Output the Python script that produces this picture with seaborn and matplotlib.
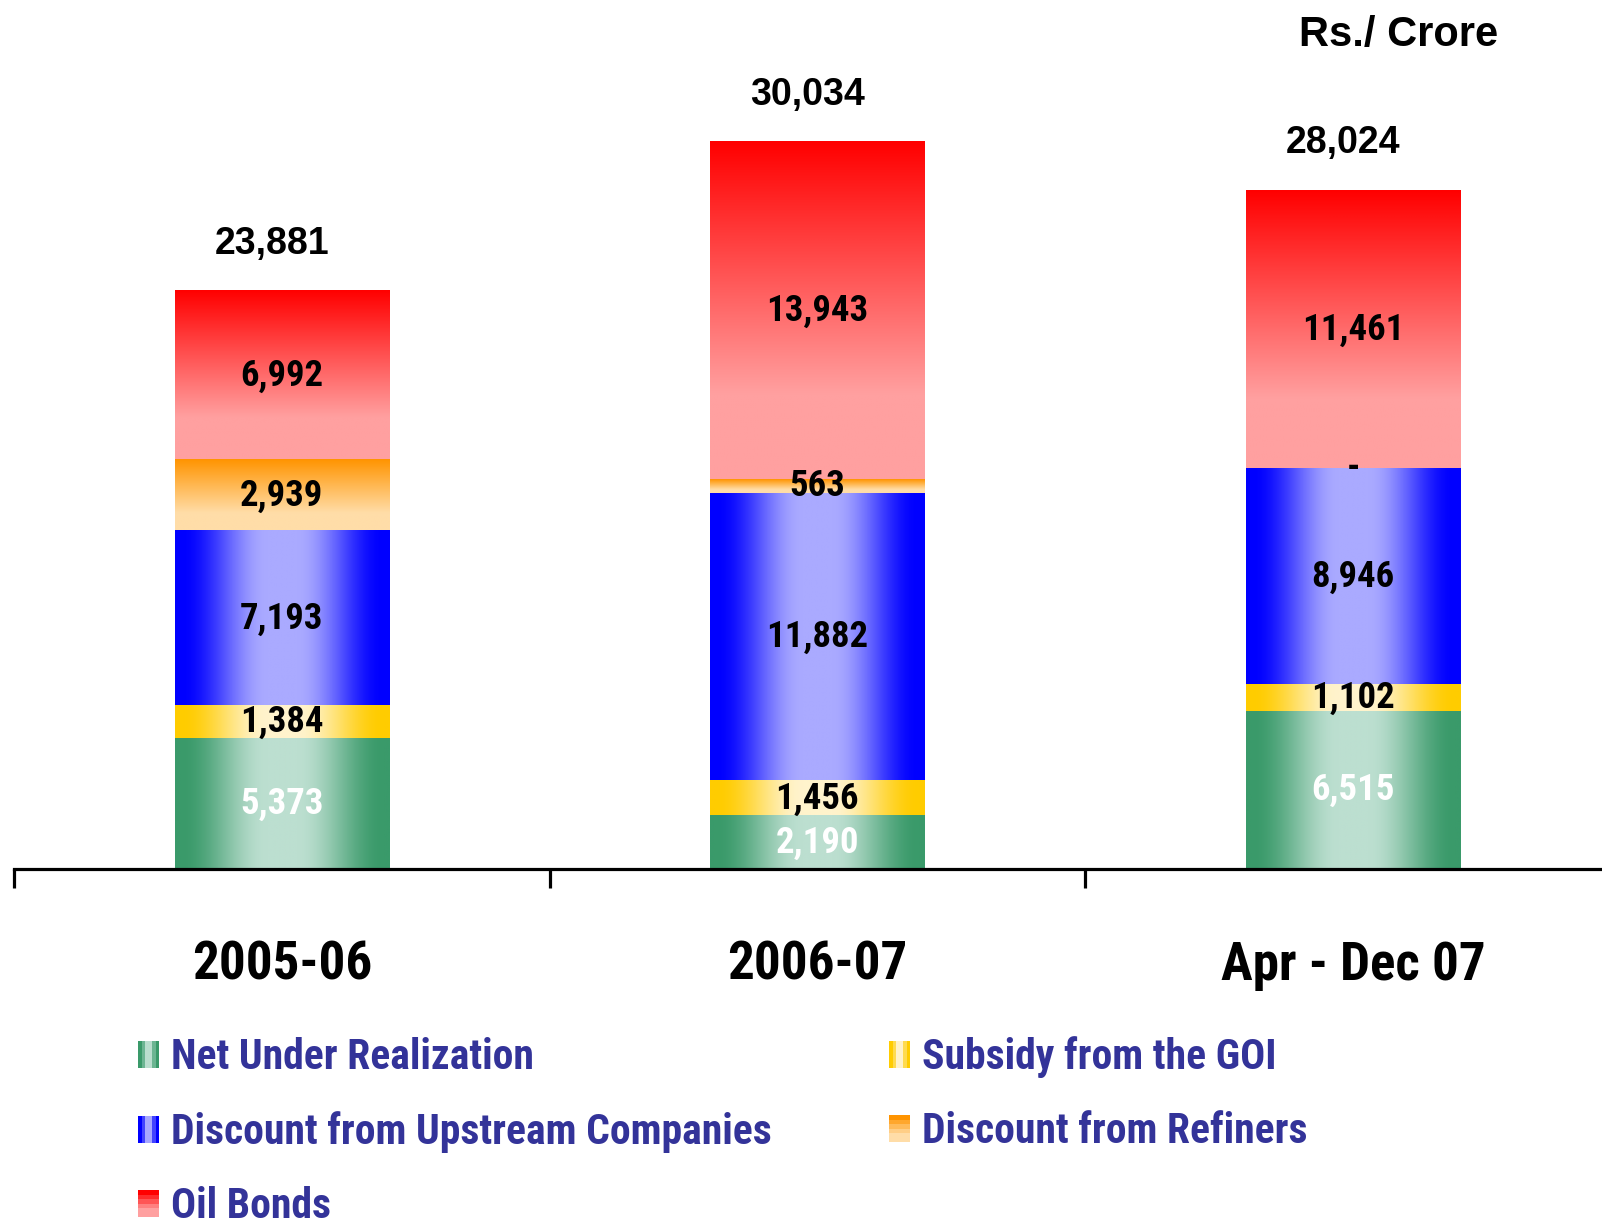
import numpy as np
import pandas as pd
import seaborn as sns
import matplotlib
matplotlib.use("Agg")
import matplotlib.pyplot as plt
from matplotlib import font_manager as fm
from matplotlib.font_manager import FontProperties
from matplotlib.colors import to_rgb
from matplotlib.legend_handler import HandlerBase
from matplotlib.patches import Rectangle

# ---------------- data ----------------
periods = ["2005-06", "2006-07", "Apr - Dec 07"]
series_names = ["Net Under Realization", "Subsidy from the GOI",
                "Discount from Upstream Companies", "Discount from Refiners",
                "Oil Bonds"]
net_under_realization = [5373, 2190, 6515]
subsidy_goi = [1384, 1456, 1102]
discount_upstream = [7193, 11882, 8946]
discount_refiners = [2939, 563, 0]
oil_bonds = [6992, 13943, 11461]
totals = [23881, 30034, 28024]
unit_label = "Rs./ Crore"

series_values = [net_under_realization, subsidy_goi, discount_upstream,
                 discount_refiners, oil_bonds]

# ---------------- fonts ----------------
ARIAL = ["Liberation Sans", "DejaVu Sans"]


def _wt(f):
    w = f.weight
    if isinstance(w, str):
        w = fm.weight_dict.get(w, 400)
    return w


def pick_condensed():
    prefs = ["Liberation Sans Narrow", "Arial Narrow", "Roboto Condensed",
             "Open Sans Condensed", "DejaVu Sans Condensed", "DejaVu Sans"]
    cands = []
    for f in fm.fontManager.ttflist:
        nm, fn = f.name, f.fname
        cond = ("Narrow" in nm or "Condensed" in nm or "Narrow" in fn
                or "Condensed" in fn or f.stretch in
                ("condensed", "semi-condensed", "extra-condensed"))
        if not cond or "Mono" in fn or "Serif" in fn or "Oblique" in fn \
                or "Italic" in fn:
            continue
        rank = len(prefs)
        for k, p in enumerate(prefs):
            if p.replace(" ", "") in fn.replace(" ", "") or p == nm:
                rank = k
                break
        bold_pen = abs(_wt(f) - 700) / 100
        cands.append((rank, bold_pen, fn))
    if cands:
        cands.sort()
        return FontProperties(fname=cands[0][2])
    return FontProperties(family="Liberation Sans", weight="bold")


COND = pick_condensed()

# ---------------- styles ----------------
grad_styles = [
    ("h", "#3A9A6A", "#BCDFD0"),
    ("h", "#FFCC00", "#FFF3CC"),
    ("h", "#0000FF", "#AAAAFF"),
    ("v", "#FF9400", "#FFDDA8"),
    ("v", "#FF0000", "#FFA0A0"),
]
label_colors = ["white", "black", "black", "black", "black"]


def gradient_colors(kind, ca, cb, n=256):
    a, b = np.array(to_rgb(ca)), np.array(to_rgb(cb))
    u = np.linspace(0, 1, n)
    if kind == "h":
        f = 1 - np.clip((np.abs(u - 0.5) - 0.07) / 0.40, 0, 1)
        f = f * f * (3 - 2 * f)
    else:
        f = np.clip(u / 0.75, 0, 1)
    return a + (b - a) * f[:, None]


def gradient_image(kind, ca, cb):
    cols = gradient_colors(kind, ca, cb)
    if kind == "h":
        return cols[None, :, :]
    return cols[:, None, :]


cum = np.zeros(len(periods))
cums = []
for vals in series_values:
    cum = cum + np.array(vals)
    cums.append(cum.copy())

fig = plt.figure(figsize=(16.02, 12.25), dpi=100)
renderer = fig.canvas.get_renderer()


def text_w(fp, s):
    w, h, d = renderer.get_text_width_height_descent(s, fp, ismath=False)
    return w


def fitted(fp, sample, target_px, max_size):
    p = fp.copy()
    p.set_size(20)
    size = 20 * target_px / text_w(p, sample)
    p.set_size(min(size, max_size))
    return p


FP_VAL = fitted(COND, "6,992", 84, 36)
FP_CAT = fitted(COND, "2005-06", 180, 50)
FP_LEG = fitted(COND, "Net Under Realization", 362, 36)

ax = fig.add_axes([14 / 1602, 356 / 1225, 1588 / 1602, 869 / 1225])

for i in reversed(range(len(series_values))):
    d = pd.DataFrame({"period": periods, "cum": cums[i]})
    n_before = len(ax.patches)
    sns.barplot(data=d, x="period", y="cum", order=periods, ax=ax,
                width=0.4, color=grad_styles[i][1], errorbar=None,
                linewidth=0)
    new = ax.patches[n_before:]
    img = gradient_image(*grad_styles[i])
    for j, p in enumerate(new):
        val = series_values[i][j]
        top = p.get_height()
        bot = top - val
        x0, w = p.get_x(), p.get_width()
        p.set_alpha(0)
        if val > 0:
            ax.imshow(img, extent=(x0, x0 + w, bot, top), aspect="auto",
                      interpolation="bilinear", zorder=2)
        lab = f"{val:,}" if val > 0 else "-"
        ax.text(x0 + w / 2, bot + val / 2, lab, ha="center", va="center",
                fontproperties=FP_VAL, color=label_colors[i], zorder=5)

for j, p in enumerate(periods):
    ax.annotate(f"{totals[j]:,}", xy=(j, totals[j]), xytext=(-7, 21),
                textcoords="offset points", ha="center", va="bottom",
                fontsize=27, fontweight="bold", family=ARIAL, color="black",
                annotation_clip=False)

ax.set_xlabel("")
ax.set_ylabel("")
for s in ["top", "right", "left"]:
    ax.spines[s].set_visible(False)
ax.spines["bottom"].set_linewidth(2.3)
ax.spines["bottom"].set_color("black")
ax.set_yticks([])
ax.set_xticks([-0.5, 0.5, 1.5], labels=["", "", ""])
ax.set_xticks([0, 1, 2], labels=periods, minor=True)
ax.tick_params(axis="x", which="major", direction="out", length=14,
               width=2.3, color="black")
ax.tick_params(axis="x", which="minor", length=0, pad=51)
for t in ax.get_xticklabels(minor=True):
    t.set_fontproperties(FP_CAT)
ax.set_facecolor("white")
ax.set_xlim(-0.5, 2.465)
ax.set_ylim(0, 35900)

fig.text(1399 / 1602, 1 - 35 / 1225, unit_label, ha="center", va="center",
         fontsize=30, fontweight="bold", family=ARIAL)


class StripeHandler(HandlerBase):
    def __init__(self, kind, ca, cb, n=6):
        super().__init__()
        self.kind, self.ca, self.cb, self.n = kind, ca, cb, n

    def create_artists(self, legend, orig_handle, xdescent, ydescent,
                       width, height, fontsize, trans):
        cols = gradient_colors(self.kind, self.ca, self.cb, self.n)
        arts = []
        for k, c in enumerate(cols):
            if self.kind == "h":
                r = Rectangle((-xdescent + k * width / self.n, -ydescent),
                              width / self.n, height, facecolor=c,
                              edgecolor="none", transform=trans)
            else:
                r = Rectangle((-xdescent, -ydescent + height - (k + 1) * height / self.n),
                              width, height / self.n, facecolor=c,
                              edgecolor="none", transform=trans)
            arts.append(r)
        return arts


order = [0, 2, 4, 1, 3]
handles, labels, hmap = [], [], {}
for i in order:
    h = Rectangle((0, 0), 1, 1)
    handles.append(h)
    labels.append(series_names[i])
    hmap[h] = StripeHandler(*grad_styles[i])

fs_px = FP_LEG.get_size_in_points() * 100 / 72
col1_end = 138 + 21 + 12 + max(text_w(FP_LEG, series_names[i]) for i in order[:3])
colspace = max(889 - col1_end, 20) / fs_px
leg = fig.legend(handles, labels, handler_map=hmap, ncol=2,
                 loc="upper left", bbox_to_anchor=(138 / 1602, 1 - 1036 / 1225),
                 frameon=False, borderpad=0, borderaxespad=0,
                 handlelength=21 / fs_px, handleheight=26 / fs_px,
                 handletextpad=12 / fs_px,
                 labelspacing=0.8, columnspacing=colspace,
                 prop=FP_LEG)
for t in leg.get_texts():
    t.set_color("#333399")

fig.savefig("out.png", dpi=100, facecolor="white")
